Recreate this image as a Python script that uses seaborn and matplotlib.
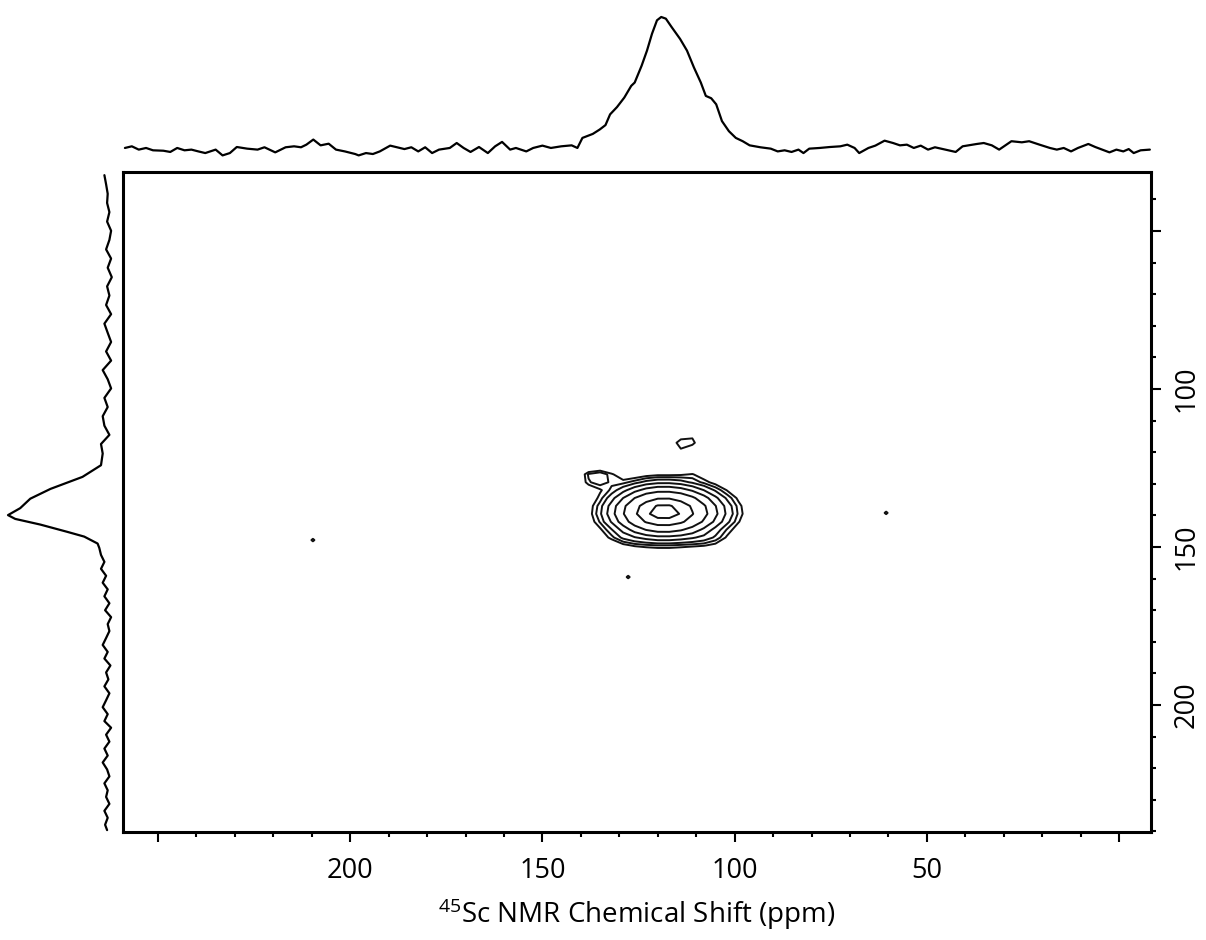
import numpy as np
import matplotlib
matplotlib.use("Agg")
import matplotlib.pyplot as plt
import seaborn as sns
from matplotlib.ticker import FixedLocator, FixedFormatter, MultipleLocator

# ---- F2 (45Sc direct dimension) projection: chemical shift (ppm), intensity
f2_ppm = [258.6, 256.8, 255.0, 253.1, 251.3, 248.6, 246.8, 245.0, 243.1, 241.3,
          239.5, 237.7, 235.0, 233.2, 231.3, 229.5, 226.8, 224.1, 222.3, 219.5,
          216.8, 214.6, 212.8, 211.4, 209.6, 207.7, 205.6, 203.7, 201.4, 198.7,
          197.8, 195.9, 194.1, 192.3, 189.6, 187.8, 185.9, 184.1, 182.3, 180.5,
          178.7, 176.9, 174.1, 172.3, 170.5, 168.7, 166.5, 164.2, 162.3, 160.5,
          158.4, 156.9, 154.2, 152.4, 150.0, 147.8, 145.1, 142.4, 140.9, 139.6,
          136.9, 135.1, 133.6, 132.4, 130.6, 128.7, 126.9, 126.0, 124.2, 122.8,
          121.5, 120.2, 119.1, 117.9, 116.4, 114.2, 112.4, 110.6, 108.8, 107.5,
          106.1, 104.8, 103.3, 101.5, 99.7, 97.9, 96.1, 93.3, 90.6, 88.8,
          87.0, 85.2, 83.4, 82.1, 80.6, 77.9, 75.2, 72.5, 70.7, 68.8,
          67.6, 65.2, 63.4, 61.0, 58.8, 57.0, 55.2, 53.4, 51.6, 49.7,
          47.9, 45.2, 42.5, 40.7, 37.0, 35.2, 33.1, 31.2, 28.0, 25.3,
          23.4, 20.7, 18.0, 16.2, 14.4, 12.5, 10.7, 8.0, 6.2, 4.4,
          2.5, 0.7, -1.1, -2.5, -3.8, -5.6, -8.0]
f2_int = [4.9, 6.1, 3.7, 4.9, 3.2, 2.9, 2.0, 4.9, 3.2, 3.7,
          2.4, 1.2, 3.7, -0.5, 1.2, 5.6, 4.4, 3.7, 5.4, 1.7,
          5.4, 6.1, 5.4, 7.3, 11.0, 6.8, 8.0, 3.7, 2.4, 0.5,
          -0.5, 1.2, 0.5, 2.4, 6.6, 5.4, 4.1, 5.4, 2.4, 5.4,
          1.2, 3.7, 4.9, 8.5, 4.9, 2.0, 5.6, 1.2, 6.1, 9.3,
          3.7, 4.9, 2.4, 4.9, 6.6, 4.9, 6.1, 6.8, 4.9, 12.2,
          15.1, 18.3, 21.5, 29.3, 34.6, 41.5, 50.0, 52.4, 64.6, 75.6,
          87.8, 97.6, 100.0, 98.8, 92.7, 84.1, 75.6, 63.4, 52.4, 42.7,
          41.0, 36.6, 24.4, 17.1, 12.2, 9.8, 6.8, 5.4, 4.4, 2.4,
          3.2, 2.0, 3.7, 1.2, 4.4, 4.9, 5.6, 6.1, 7.3, 4.9,
          1.2, 4.9, 6.6, 10.2, 8.5, 6.8, 7.3, 4.9, 6.6, 3.7,
          5.4, 3.7, 2.0, 6.1, 7.8, 8.5, 6.8, 3.7, 9.8, 9.0,
          9.8, 7.3, 4.9, 3.7, 4.9, 2.4, 4.9, 7.8, 5.6, 3.7,
          1.7, 3.7, 2.4, 4.1, 1.2, 3.2, 3.7]

# ---- F1 (indirect dimension) projection: chemical shift (ppm), intensity
f1_ppm = [32.3, 35.2, 38.2, 41.1, 44.0, 47.0, 49.9, 52.8, 55.8, 58.7,
          61.6, 64.6, 67.5, 70.4, 73.4, 76.3, 79.3, 82.2, 85.1, 88.1,
          91.0, 94.0, 96.9, 99.8, 102.8, 105.7, 108.6, 111.6, 114.5, 117.4,
          120.4, 124.1, 127.8, 131.6, 134.7, 137.7, 139.9, 141.1, 142.9, 145.2,
          146.7, 148.9, 150.3, 152.5, 154.7, 156.9, 159.1, 161.3, 163.4, 165.6,
          167.8, 170.0, 172.2, 174.4, 176.6, 178.8, 181.0, 183.2, 185.3, 187.5,
          189.7, 191.9, 194.1, 196.3, 198.5, 200.7, 202.9, 205.1, 207.2, 209.4,
          211.6, 213.8, 216.0, 218.2, 220.4, 222.6, 224.8, 227.0, 229.1, 231.3,
          233.5, 235.7, 237.9, 239.6]
f1_int = [3.6, 1.9, 0.3, 0.9, -1.4, 0.9, -3.1, -1.4, 1.9, -3.1,
          0.3, -3.8, 0.9, -1.4, 1.9, -3.1, 3.6, 0.3, -3.1, 1.9,
          -3.1, 5.3, 0.3, -3.1, 3.6, 0.3, 5.3, 3.6, -1.4, 7.0,
          5.3, 7.0, 25.5, 57.5, 77.7, 87.8, 100.0, 92.8, 67.6, 40.7,
          23.8, 10.4, 8.7, 7.0, 3.6, 7.0, 1.9, 5.3, 0.3, 3.6,
          -1.4, 2.9, -3.1, 0.3, -1.4, 1.9, 5.3, 0.3, 3.6, -2.4,
          1.9, -0.4, 3.6, -1.4, 1.9, 5.3, 0.3, 3.6, -3.1, 1.9,
          -1.4, 3.6, 0.3, 5.3, 0.9, -1.4, 3.6, 0.3, 1.9, -1.4,
          3.6, 0.3, 2.9, 0.9]

# ---- 2D correlation intensities on the acquisition grid
grid_f2 = [144, 141, 138, 135, 132, 129, 126, 123, 120, 117, 114, 111, 108, 105, 102, 99, 96, 93]
grid_f1 = [112, 114.5, 117, 119.5, 122, 124.5, 127, 129.5, 132, 134.5, 137, 139.5,
           142, 144.5, 147, 149.5, 152, 154.5]
grid_int = [
    [0, 0, 0, 0, 0, 0, 0, 0, 0, 0, 0, 0, 0, 0, 0, 0, 0, 0],
    [0, 0, 0, 0, 0, 0, 0, 0, 0, 3, 11, 13, 4, 0, 0, 0, 0, 0],
    [0, 0, 0, 0, 0, 0, 0, 0, 1, 10, 18, 17.5, 6, 0, 0, 0, 0, 0],
    [0, 0, 0.1, 0.1, 0.2, 0.3, 0.4, 0.5, 3, 13, 14, 8, 1, 0.2, 0.1, 0.1, 0.1, 0],
    [0.0, 0.1, 0.2, 0.4, 0.7, 1.0, 1.3, 1.6, 1.8, 1.8, 1.7, 1.4, 1.1, 0.8, 0.5, 0.3, 0.2, 0.1],
    [0.2, 1.2, 4.0, 5.9, 4.4, 3.4, 4.0, 4.8, 5.3, 5.3, 4.9, 4.2, 3.3, 2.4, 1.6, 1.0, 0.5, 0.3],
    [0.4, 6.0, 19.5, 23.0, 16.0, 10.0, 9.9, 12.1, 13.4, 13.4, 14.0, 15.5, 11.0, 5.9, 3.9, 2.4, 1.4, 0.7],
    [0.8, 6.0, 18.0, 21.5, 17.6, 17.1, 20.9, 25.5, 28.2, 28.3, 26.1, 22.1, 17.3, 12.5, 8.3, 5.1, 2.9, 1.5],
    [1.4, 3.6, 8.3, 14.1, 19.9, 27.8, 37.1, 45.3, 50.0, 50.1, 46.2, 39.2, 30.7, 22.2, 14.7, 9.0, 5.1, 2.7],
    [2.1, 4.6, 9.2, 16.7, 27.5, 41.0, 55.3, 67.5, 74.5, 74.7, 68.9, 58.5, 45.8, 33.0, 22.0, 13.5, 7.6, 4.0],
    [2.6, 5.7, 11.5, 20.9, 34.5, 51.4, 69.3, 84.6, 93.4, 93.6, 86.3, 73.3, 57.4, 41.4, 27.5, 16.9, 9.5, 5.0],
    [2.7, 6.0, 12.1, 22.1, 36.3, 54.1, 73.0, 89.1, 98.4, 98.6, 90.9, 77.2, 60.4, 43.6, 29.0, 17.8, 10.0, 5.2],
    [2.4, 5.3, 10.6, 19.3, 31.7, 47.3, 63.8, 77.8, 86.0, 86.2, 79.4, 67.5, 52.8, 38.1, 25.3, 15.5, 8.8, 4.6],
    [1.7, 3.8, 7.6, 13.9, 22.9, 34.1, 46.0, 56.1, 62.0, 62.2, 57.3, 48.6, 38.1, 27.5, 18.3, 11.2, 6.3, 3.3],
    [1.0, 2.3, 5.0, 10.0, 17.0, 25.0, 30.0, 34.0, 37.0, 37.0, 35.0, 32.0, 28.0, 22.0, 14.0, 7.0, 3.8, 2.0],
    [0.5, 1.1, 2.2, 4.5, 8.0, 13.0, 16.0, 17.5, 18.5, 18.5, 17.5, 16.5, 15.5, 13.0, 7.0, 3.3, 1.9, 1.0],
    [0.2, 0.5, 0.9, 1.6, 2.7, 4.0, 5.4, 6.6, 7.3, 7.4, 6.8, 5.8, 4.5, 3.3, 2.2, 1.3, 0.8, 0.4],
    [0.1, 0.2, 0.3, 0.6, 0.9, 1.4, 1.8, 2.2, 2.5, 2.5, 2.3, 1.9, 1.5, 1.1, 0.7, 0.4, 0.3, 0.1],
]

# isolated single-point features (F2 ppm, F1 ppm, intensity)
speck_f2 = [209.7, 127.7, 60.6]
speck_f1 = [147.8, 159.5, 139.2]
speck_int = [20, 20, 20]

# contour levels
levels = [15, 18.7, 23.3, 30.8, 40.9, 55.2, 76, 92]

x_ticks = [250, 200, 150, 100, 50, 0]
x_ticklabels = ["", "200", "150", "100", "50", ""]
y_ticks = [50, 100, 150, 200]
y_ticklabels = ["", "100", "150", "200"]

sns.set_theme(style="white")
plt.rcParams["font.family"] = ["Open Sans", "DejaVu Sans"]
plt.rcParams["axes.edgecolor"] = "black"

W, H = 1206, 940
fig = plt.figure(figsize=(W / 100, H / 100), dpi=100)
fig.patch.set_facecolor("white")

x0, x1 = 123, 1151
y0, y1 = 172, 832
ax = fig.add_axes([x0 / W, (H - y1) / H, (x1 - x0) / W, (y1 - y0) / H])
ax_top = fig.add_axes([x0 / W, (H - 161.6) / H, (x1 - x0) / W, (161.6 - 10.1) / H])
ax_left = fig.add_axes([0, (H - y1) / H, 115 / W, (y1 - y0) / H])

XLIM = (259.1, -8.3)
YLIM = (240.2, 31.3)

# 2D contour map
X, Y = np.meshgrid(grid_f2, grid_f1)
ax.contour(X, Y, np.array(grid_int), levels=levels, colors="#111111", linewidths=1.4)
for sx, sy, sv in zip(speck_f2, speck_f1, speck_int):
    gx = [sx + 1.5, sx, sx - 1.5]
    gy = [sy - 1.5, sy, sy + 1.5]
    z = np.zeros((3, 3))
    z[1, 1] = sv
    SX, SY = np.meshgrid(gx, gy)
    ax.contour(SX, SY, z, levels=[levels[0]], colors="#111111", linewidths=1.5)

ax.set_xlim(*XLIM)
ax.set_ylim(*YLIM)
for s in ax.spines.values():
    s.set_visible(True)
    s.set_linewidth(2.2)
    s.set_color("black")

ax.xaxis.set_major_locator(FixedLocator(x_ticks))
ax.xaxis.set_major_formatter(FixedFormatter(x_ticklabels))
ax.xaxis.set_minor_locator(MultipleLocator(10))
ax.yaxis.set_major_locator(FixedLocator(y_ticks))
ax.yaxis.set_major_formatter(FixedFormatter(y_ticklabels))
ax.yaxis.set_minor_locator(MultipleLocator(10))
ax.yaxis.tick_right()
ax.tick_params(axis="both", which="both", direction="out", color="black",
               width=1.5, labelsize=19.5, labelcolor="black")
ax.tick_params(axis="both", which="major", length=7.5)
ax.tick_params(axis="both", which="minor", length=3.8)
ax.tick_params(axis="x", which="both", bottom=True, top=False)
ax.tick_params(axis="x", which="major", pad=10.5)
ax.tick_params(axis="y", which="both", left=False, right=True, labelleft=False,
               labelright=True, labelrotation=90)
ax.tick_params(axis="y", which="major", pad=8)
for t in ax.yaxis.get_major_ticks():
    t.label2.set_va("center")
ax.set_xlabel(r"$\mathregular{^{45}}$Sc NMR Chemical Shift (ppm)", fontsize=20,
              labelpad=8, color="black")
ax.set_ylabel("")
ax.grid(False)

# projections
sns.lineplot(x=f2_ppm, y=f2_int, ax=ax_top, sort=False, estimator=None,
             color="black", linewidth=1.6)
ax_top.set_xlim(*XLIM)
ax_top.set_ylim(-5, 105)
ax_top.axis("off")

sns.lineplot(x=f1_int, y=f1_ppm, ax=ax_left, sort=False, estimator=None,
             orient="y", color="black", linewidth=1.6)
ax_left.set_xlim(108, -7)
ax_left.set_ylim(*YLIM)
ax_left.axis("off")

fig.savefig("out.png", dpi=100, facecolor="white")
